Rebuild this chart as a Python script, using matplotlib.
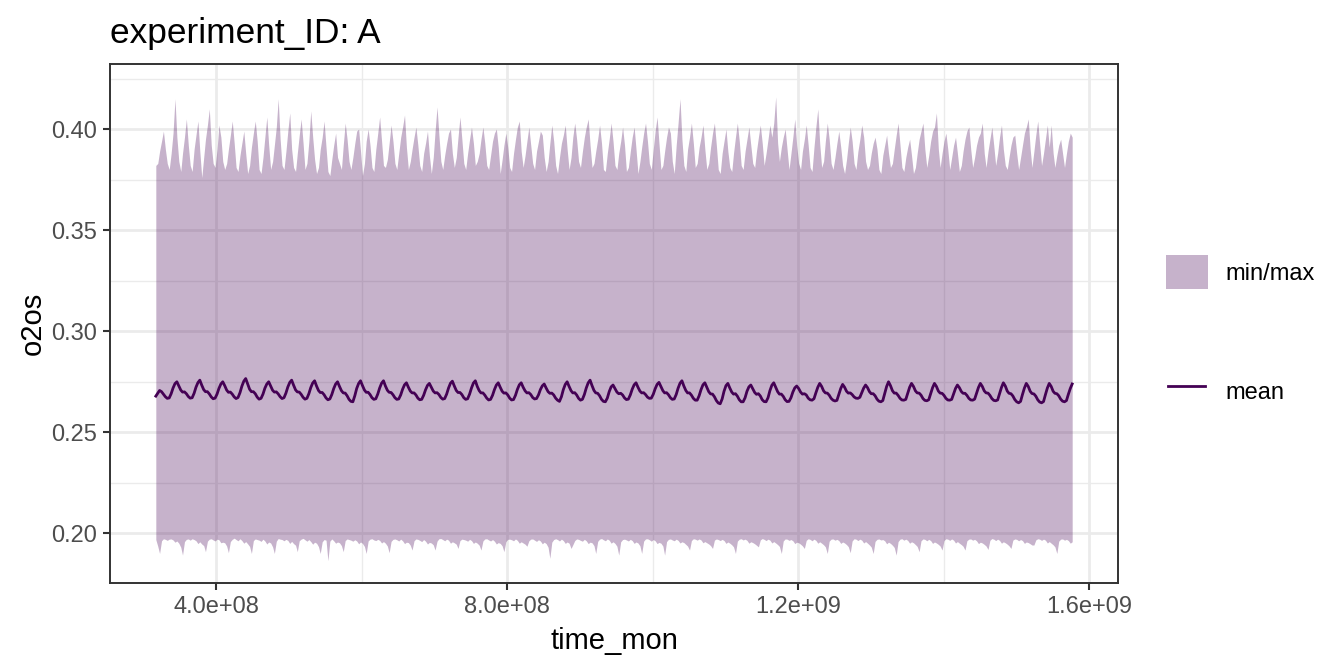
import numpy as np
import pandas as pd
import matplotlib
matplotlib.use("Agg")
import matplotlib.pyplot as plt
from matplotlib.patches import Patch
from matplotlib.lines import Line2D
from matplotlib.ticker import FuncFormatter

plt.rcParams['font.family'] = ['Liberation Sans', 'DejaVu Sans']

# monthly values, one row per year (1980 .. 2019)
# o2os mean, units of 1e-4
mean_e4 = [
    [2678, 2692, 2706, 2700, 2688, 2675, 2667, 2669, 2690, 2718, 2740, 2749],
    [2728, 2708, 2698, 2699, 2690, 2676, 2668, 2670, 2692, 2722, 2745, 2757],
    [2732, 2710, 2700, 2700, 2689, 2674, 2665, 2668, 2688, 2716, 2738, 2749],
    [2730, 2708, 2697, 2698, 2688, 2674, 2666, 2671, 2695, 2727, 2752, 2765],
    [2738, 2712, 2700, 2700, 2690, 2673, 2663, 2667, 2688, 2717, 2738, 2749],
    [2728, 2707, 2698, 2699, 2689, 2675, 2666, 2670, 2693, 2723, 2746, 2757],
    [2732, 2709, 2699, 2698, 2687, 2672, 2663, 2667, 2690, 2720, 2743, 2754],
    [2728, 2706, 2696, 2696, 2685, 2669, 2660, 2664, 2686, 2715, 2738, 2749],
    [2726, 2705, 2694, 2693, 2680, 2662, 2652, 2650, 2680, 2716, 2741, 2754],
    [2730, 2708, 2697, 2697, 2686, 2670, 2662, 2665, 2688, 2718, 2742, 2754],
    [2728, 2707, 2697, 2696, 2685, 2670, 2662, 2664, 2684, 2712, 2734, 2744],
    [2722, 2703, 2694, 2694, 2684, 2668, 2660, 2662, 2682, 2709, 2731, 2741],
    [2722, 2703, 2694, 2695, 2686, 2671, 2663, 2666, 2688, 2718, 2742, 2752],
    [2728, 2706, 2696, 2696, 2686, 2670, 2662, 2665, 2688, 2718, 2743, 2754],
    [2726, 2705, 2694, 2694, 2683, 2668, 2659, 2662, 2682, 2710, 2733, 2744],
    [2722, 2702, 2693, 2694, 2684, 2668, 2659, 2661, 2682, 2711, 2734, 2744],
    [2722, 2704, 2694, 2695, 2686, 2671, 2664, 2666, 2684, 2710, 2729, 2738],
    [2718, 2700, 2692, 2693, 2684, 2668, 2658, 2652, 2675, 2710, 2736, 2749],
    [2726, 2705, 2694, 2695, 2684, 2667, 2658, 2662, 2686, 2718, 2744, 2757],
    [2730, 2706, 2694, 2692, 2680, 2662, 2652, 2650, 2668, 2700, 2724, 2733],
    [2716, 2698, 2690, 2692, 2684, 2669, 2661, 2663, 2684, 2712, 2734, 2744],
    [2722, 2703, 2694, 2695, 2686, 2673, 2667, 2668, 2687, 2714, 2736, 2746],
    [2726, 2705, 2694, 2695, 2685, 2670, 2662, 2664, 2686, 2717, 2742, 2754],
    [2728, 2706, 2694, 2694, 2683, 2667, 2658, 2658, 2680, 2710, 2734, 2744],
    [2722, 2700, 2689, 2688, 2675, 2656, 2644, 2640, 2664, 2702, 2730, 2741],
    [2718, 2698, 2688, 2690, 2678, 2660, 2650, 2650, 2670, 2702, 2724, 2733],
    [2714, 2696, 2687, 2690, 2679, 2660, 2651, 2650, 2670, 2705, 2732, 2744],
    [2722, 2700, 2688, 2688, 2677, 2660, 2651, 2652, 2670, 2698, 2719, 2728],
    [2716, 2698, 2688, 2690, 2684, 2668, 2660, 2658, 2665, 2694, 2722, 2741],
    [2726, 2704, 2694, 2693, 2683, 2667, 2658, 2654, 2657, 2686, 2716, 2736],
    [2722, 2702, 2693, 2694, 2686, 2674, 2668, 2667, 2672, 2694, 2718, 2733],
    [2720, 2700, 2690, 2690, 2680, 2663, 2653, 2650, 2656, 2690, 2726, 2749],
    [2730, 2705, 2693, 2693, 2682, 2667, 2659, 2658, 2662, 2692, 2722, 2741],
    [2726, 2704, 2694, 2693, 2683, 2666, 2657, 2655, 2660, 2690, 2720, 2741],
    [2726, 2703, 2693, 2692, 2682, 2667, 2659, 2658, 2662, 2688, 2716, 2733],
    [2720, 2701, 2692, 2692, 2682, 2667, 2659, 2658, 2663, 2691, 2721, 2741],
    [2726, 2704, 2694, 2693, 2682, 2666, 2657, 2655, 2659, 2690, 2721, 2744],
    [2728, 2703, 2692, 2690, 2679, 2661, 2650, 2645, 2652, 2686, 2718, 2741],
    [2726, 2702, 2691, 2689, 2678, 2660, 2649, 2645, 2651, 2685, 2718, 2741],
    [2726, 2702, 2692, 2690, 2680, 2663, 2653, 2650, 2656, 2687, 2716, 2738],
]

# o2os max, units of 1e-3
max_e3 = [
    [382, 383, 389, 394, 399, 390, 383, 380, 388, 398, 415, 396],
    [384, 379, 388, 396, 405, 392, 382, 379, 390, 397, 404, 389],
    [376, 386, 395, 402, 410, 392, 383, 381, 390, 402, 396, 384],
    [380, 383, 390, 397, 404, 393, 381, 379, 387, 393, 399, 388],
    [378, 382, 391, 398, 404, 394, 380, 378, 386, 396, 406, 392],
    [380, 384, 392, 401, 415, 395, 382, 380, 389, 399, 408, 390],
    [381, 379, 388, 397, 405, 393, 380, 383, 394, 409, 396, 385],
    [378, 381, 390, 396, 404, 391, 379, 377, 385, 392, 398, 386],
    [383, 380, 392, 403, 395, 384, 380, 386, 393, 399, 400, 389],
    [377, 383, 394, 400, 392, 381, 379, 390, 398, 406, 394, 382],
    [381, 385, 393, 402, 394, 383, 380, 388, 396, 401, 407, 391],
    [380, 384, 390, 396, 401, 392, 382, 379, 388, 393, 399, 387],
    [378, 386, 399, 411, 397, 384, 380, 387, 393, 398, 400, 388],
    [381, 386, 396, 406, 395, 383, 380, 388, 395, 401, 393, 382],
    [384, 388, 395, 401, 393, 382, 380, 387, 394, 398, 400, 391],
    [378, 385, 392, 398, 391, 381, 379, 388, 395, 401, 404, 389],
    [381, 387, 394, 401, 392, 383, 380, 389, 394, 399, 397, 386],
    [379, 384, 393, 402, 394, 382, 378, 386, 393, 397, 402, 390],
    [380, 386, 396, 403, 395, 384, 381, 389, 396, 401, 405, 392],
    [381, 383, 389, 395, 402, 393, 380, 379, 388, 395, 403, 394],
    [382, 380, 388, 394, 401, 392, 379, 381, 389, 396, 401, 390],
    [378, 384, 391, 398, 403, 394, 383, 380, 390, 399, 406, 393],
    [380, 382, 389, 396, 401, 398, 384, 378, 392, 403, 415, 395],
    [382, 379, 390, 396, 403, 393, 381, 383, 391, 396, 402, 390],
    [380, 383, 391, 398, 403, 392, 380, 378, 388, 394, 400, 389],
    [381, 379, 388, 396, 403, 394, 382, 380, 389, 395, 401, 392],
    [383, 381, 389, 396, 402, 393, 382, 388, 395, 402, 396, 403],
    [416, 393, 384, 391, 396, 400, 390, 380, 388, 396, 405, 392],
    [383, 380, 389, 395, 402, 392, 381, 379, 391, 401, 410, 393],
    [381, 384, 394, 403, 395, 383, 380, 386, 393, 399, 391, 382],
    [378, 385, 393, 401, 394, 383, 380, 389, 395, 402, 396, 384],
    [380, 382, 388, 393, 396, 390, 380, 378, 387, 392, 397, 388],
    [381, 383, 390, 397, 403, 392, 381, 379, 386, 391, 395, 387],
    [378, 381, 388, 395, 399, 403, 390, 381, 387, 394, 399, 401],
    [408, 390, 381, 388, 394, 398, 390, 380, 386, 392, 396, 388],
    [379, 382, 389, 395, 399, 401, 390, 381, 386, 392, 396, 398],
    [403, 388, 381, 389, 395, 401, 392, 382, 388, 396, 402, 390],
    [382, 380, 386, 392, 396, 397, 388, 380, 386, 392, 398, 401],
    [405, 390, 381, 389, 397, 404, 393, 382, 388, 395, 402, 391],
    [402, 388, 381, 387, 392, 395, 388, 381, 388, 394, 398, 396],
]

# o2os min, units of 1e-4
min_e4 = [
    [1968, 1935, 1899, 1962, 1972, 1969, 1964, 1970, 1971, 1966, 1955, 1961],
    [1950, 1930, 1891, 1958, 1969, 1971, 1965, 1972, 1968, 1962, 1948, 1957],
    [1946, 1938, 1908, 1960, 1970, 1972, 1966, 1961, 1970, 1967, 1952, 1955],
    [1952, 1936, 1903, 1958, 1969, 1975, 1968, 1962, 1972, 1963, 1950, 1958],
    [1947, 1934, 1899, 1963, 1971, 1968, 1965, 1959, 1970, 1961, 1946, 1956],
    [1951, 1932, 1899, 1960, 1973, 1970, 1968, 1962, 1969, 1964, 1949, 1959],
    [1948, 1940, 1908, 1962, 1970, 1974, 1967, 1960, 1968, 1958, 1945, 1955],
    [1950, 1933, 1899, 1957, 1968, 1965, 1863, 1960, 1971, 1962, 1950, 1956],
    [1952, 1938, 1908, 1963, 1971, 1968, 1965, 1960, 1967, 1961, 1947, 1956],
    [1949, 1934, 1899, 1961, 1970, 1972, 1966, 1963, 1969, 1964, 1951, 1958],
    [1950, 1936, 1903, 1959, 1969, 1971, 1967, 1961, 1970, 1962, 1948, 1955],
    [1953, 1940, 1916, 1962, 1971, 1969, 1964, 1958, 1968, 1960, 1946, 1954],
    [1951, 1942, 1916, 1960, 1972, 1973, 1968, 1962, 1970, 1965, 1950, 1957],
    [1952, 1945, 1924, 1963, 1970, 1968, 1965, 1960, 1969, 1963, 1949, 1956],
    [1950, 1940, 1916, 1961, 1971, 1972, 1966, 1961, 1968, 1960, 1946, 1953],
    [1949, 1937, 1908, 1958, 1969, 1970, 1967, 1962, 1971, 1964, 1950, 1957],
    [1951, 1945, 1935, 1962, 1970, 1971, 1965, 1959, 1967, 1961, 1947, 1955],
    [1948, 1930, 1875, 1955, 1968, 1972, 1968, 1961, 1970, 1963, 1949, 1956],
    [1950, 1924, 1942, 1963, 1971, 1969, 1964, 1960, 1969, 1962, 1948, 1955],
    [1952, 1938, 1899, 1959, 1970, 1973, 1967, 1962, 1971, 1965, 1950, 1957],
    [1949, 1935, 1891, 1957, 1968, 1970, 1966, 1961, 1969, 1963, 1949, 1956],
    [1951, 1937, 1899, 1960, 1971, 1972, 1967, 1960, 1968, 1962, 1948, 1954],
    [1950, 1936, 1891, 1958, 1969, 1971, 1966, 1962, 1970, 1964, 1951, 1957],
    [1953, 1944, 1936, 1916, 1963, 1972, 1970, 1965, 1971, 1966, 1952, 1958],
    [1952, 1946, 1938, 1924, 1965, 1971, 1968, 1963, 1969, 1963, 1949, 1956],
    [1950, 1942, 1932, 1899, 1960, 1970, 1972, 1966, 1970, 1964, 1950, 1957],
    [1953, 1947, 1940, 1932, 1966, 1973, 1969, 1963, 1970, 1965, 1951, 1958],
    [1951, 1943, 1934, 1899, 1961, 1971, 1970, 1964, 1968, 1962, 1948, 1955],
    [1952, 1945, 1937, 1924, 1964, 1972, 1969, 1962, 1970, 1964, 1950, 1957],
    [1950, 1942, 1932, 1899, 1960, 1970, 1971, 1965, 1969, 1963, 1949, 1956],
    [1951, 1943, 1933, 1903, 1961, 1972, 1970, 1963, 1970, 1965, 1951, 1958],
    [1950, 1941, 1931, 1899, 1959, 1969, 1971, 1966, 1968, 1962, 1947, 1955],
    [1949, 1940, 1929, 1891, 1958, 1970, 1972, 1965, 1970, 1964, 1950, 1957],
    [1952, 1943, 1934, 1908, 1962, 1971, 1969, 1962, 1969, 1963, 1949, 1956],
    [1951, 1944, 1936, 1916, 1963, 1972, 1970, 1964, 1971, 1965, 1951, 1958],
    [1950, 1943, 1935, 1916, 1962, 1970, 1971, 1965, 1969, 1962, 1948, 1955],
    [1951, 1944, 1936, 1919, 1964, 1973, 1970, 1963, 1970, 1964, 1950, 1957],
    [1952, 1945, 1937, 1924, 1965, 1971, 1969, 1962, 1968, 1963, 1949, 1956],
    [1953, 1947, 1941, 1941, 1966, 1972, 1970, 1964, 1970, 1965, 1951, 1958],
    [1950, 1942, 1932, 1899, 1960, 1970, 1971, 1965, 1969, 1963, 1950, 1957],
]

x_ticks = [4e8, 8e8, 1.2e9, 1.6e9]
y_ticks = [0.20, 0.25, 0.30, 0.35, 0.40]
PURPLE = '#440154'

o2_mean = np.array(mean_e4).ravel() / 1e4
o2_max = np.array(max_e3).ravel() / 1e3
o2_min = np.array(min_e4).ravel() / 1e4

# time_mon: seconds since 1970, mid-month
dates = pd.date_range('1980-01-01', periods=len(o2_mean), freq='MS') + pd.Timedelta(days=15)
t = ((dates - pd.Timestamp('1970-01-01')).total_seconds()).values

fig = plt.figure(figsize=(13.44, 6.72), dpi=100)
ax = fig.add_axes([110 / 1344, 1 - 583 / 672, (1118 - 110) / 1344, (583 - 64) / 672])

ax.fill_between(t, o2_min, o2_max, color=PURPLE, alpha=0.3, linewidth=0, zorder=2)
ax.plot(t, o2_mean, color=PURPLE, lw=2.0, zorder=3)

ax.set_xticks(x_ticks)
ax.set_xticks([6e8, 1e9, 1.4e9], minor=True)
ax.xaxis.set_major_formatter(FuncFormatter(lambda v, p: f'{v:.1e}'))
ax.set_yticks(y_ticks)
ax.set_yticks([0.225, 0.275, 0.325, 0.375, 0.425], minor=True)
ax.yaxis.set_major_formatter(FuncFormatter(lambda v, p: f'{v:.2f}'))

# ggplot-style 5% expansion, limits set after the ticks
pad = 0.05 * (t[-1] - t[0])
ax.set_xlim(t[0] - pad, t[-1] + pad)
ax.set_ylim(0.1753, 0.4322)

ax.set_axisbelow(True)
ax.grid(which='major', color='#EBEBEB', lw=2.0)
ax.grid(which='minor', color='#EBEBEB', lw=1.0)
for s in ax.spines.values():
    s.set_color('#333333')
    s.set_linewidth(1.4)
ax.tick_params(which='major', length=5.3, width=1.5, color='#333333',
               labelcolor='#4D4D4D', labelsize=17, pad=4.2)
ax.tick_params(which='minor', length=0)

ax.set_xlabel('time_mon', fontsize=21, labelpad=6)
ax.set_ylabel('o2os', fontsize=21, labelpad=3)
ax.set_title('experiment_ID: A', loc='left', fontsize=25.4, pad=15)

fig.legend(handles=[Patch(facecolor=PURPLE, alpha=0.3, lw=0)], labels=['min/max'],
           loc='center left', bbox_to_anchor=(1166 / 1344, 1 - 272 / 672),
           frameon=False, fontsize=17, handlelength=1.79, handleheight=1.79,
           handletextpad=0.72, borderpad=0, borderaxespad=0)
fig.legend(handles=[Line2D([], [], color=PURPLE, lw=2.0)], labels=['mean'],
           loc='center left', bbox_to_anchor=(1168 / 1344, 1 - 391 / 672),
           frameon=False, fontsize=17, handlelength=1.57, handleheight=1.79,
           handletextpad=0.85, borderpad=0, borderaxespad=0)

fig.savefig('out.png', dpi=100)
